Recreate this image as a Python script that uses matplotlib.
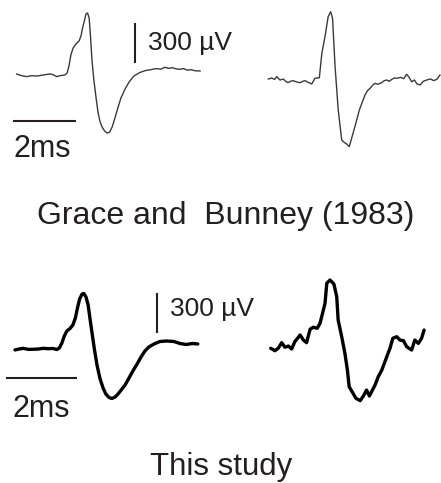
import matplotlib
matplotlib.use("Agg")
import matplotlib.pyplot as plt

plt.rcParams['font.family'] = ['Liberation Sans', 'DejaVu Sans']

# ---------------- data (time in ms, voltage in uV) ----------------
grace_left_t = [0, 0.16, 0.32, 0.48, 0.63, 0.84, 1.06, 1.16, 1.27, 1.40, 1.53, 1.60, 1.66, 1.72,
                1.79, 1.88, 1.98, 2.04, 2.09, 2.14, 2.20, 2.25, 2.30, 2.34, 2.39, 2.45, 2.52,
                2.58, 2.64, 2.71, 2.79, 2.87, 2.95, 3.03, 3.12, 3.22, 3.31, 3.44, 3.57, 3.72,
                3.91, 4.10, 4.26, 4.42, 4.58, 4.70, 4.82, 4.94, 5.06, 5.18, 5.30, 5.42, 5.54,
                5.66, 5.82]
grace_left_v = [7, -5, -12, -5, -8, 0, 8, 2, -12, -4, 0, 15, 68, 150,
                202, 232, 255, 292, 352, 398, 458, 465, 428, 300, 112, -38, -172,
                -278, -345, -390, -420, -435, -428, -390, -322, -240, -172, -105, -52, -8,
                19, 34, 40, 48, 44, 58, 50, 55, 46, 43, 48, 36, 40,
                32, 30]

grace_right_t = [0, 0.10, 0.20, 0.27, 0.37, 0.48, 0.55, 0.63, 0.72, 0.79, 0.90, 1.01, 1.09, 1.17,
                 1.27, 1.38, 1.48, 1.62, 1.70, 1.80, 1.90, 1.98, 2.04, 2.12, 2.22, 2.33, 2.42,
                 2.49, 2.57, 2.75, 2.89, 3.07, 3.15, 3.23, 3.31, 3.39, 3.48, 3.60, 3.68, 3.76,
                 3.84, 3.92, 4.00, 4.08, 4.20, 4.30, 4.39, 4.47, 4.55, 4.64, 4.72, 4.82, 4.92,
                 5.03, 5.15, 5.25, 5.35, 5.45]
grace_right_v = [7, 15, 5, 25, 0, 7, -10, -20, -8, -5, -15, -20, -10, -5,
                 -18, -30, 13, 17, 200, 325, 475, 512, 463, 100, -225, -450, -470,
                 -480, -500, -350, -225, -112, -80, -62, -40, -25, -32, -20, -5, 0,
                 -10, 5, 15, 13, 20, 10, 43, 20, -13, 0, -30, -37, -10,
                 0, 8, -5, 5, 37]

study_left_t = [0, 0.12, 0.23, 0.38, 0.52, 0.66, 0.80, 0.94, 1.07, 1.18, 1.25, 1.32, 1.39, 1.46,
                1.55, 1.63, 1.70, 1.76, 1.82, 1.89, 1.94, 2.00, 2.06, 2.11, 2.17, 2.24, 2.31,
                2.39, 2.48, 2.56, 2.65, 2.73, 2.82, 2.90, 2.99, 3.10, 3.21, 3.32, 3.44, 3.55,
                3.66, 3.77, 3.92, 4.08, 4.28, 4.48, 4.65, 4.82, 4.99, 5.15]
study_left_v = [-7, 0, 5, -3, -2, 0, 5, 2, 4, -4, 8, 45, 98, 135,
                154, 180, 232, 308, 375, 412, 416, 390, 330, 232, 120, -8, -120,
                -218, -292, -338, -364, -371, -360, -338, -308, -270, -218, -165, -112, -60,
                -15, 15, 38, 56, 60, 56, 41, 34, 41, 38]

study_right_t = [0, 0.12, 0.21, 0.31, 0.40, 0.50, 0.59, 0.68, 0.83, 0.92, 1.01, 1.11, 1.20, 1.31,
                 1.39, 1.46, 1.53, 1.58, 1.67, 1.78, 1.86, 1.90, 2.00, 2.09, 2.16, 2.21, 2.31,
                 2.40, 2.52, 2.61, 2.70, 2.78, 2.94, 3.03, 3.13, 3.27, 3.36, 3.44, 3.55, 3.64,
                 3.74, 3.83, 3.97, 4.06, 4.16, 4.25, 4.32]
study_right_v = [0, -18, 0, 42, 8, 17, -5, 50, 100, 62, 42, 143, 158, 150,
                 188, 262, 338, 488, 512, 482, 387, 212, 87, -37, -163, -288, -333,
                 -375, -393, -358, -313, -358, -275, -213, -163, -63, 0, 75, 87, 62,
                 57, 12, -13, 62, 37, 75, 137]

titles = ["Grace and  Bunney (1983)", "This study"]
volt_label = "300 \u00b5V"
time_label = "2ms"
bar_ms = 2.0
bar_uv = 300.0

W, H = 441, 483
fig = plt.figure(figsize=(W / 100, H / 100), dpi=100)
TXT = '#231f20'


def panel(x0, y0, ppm, ppu):
    """axes covering the full figure; (x0, y0) pixel of t=0,V=0; ppm px/ms, ppu px/uV."""
    ax = fig.add_axes([0, 0, 1, 1])
    ax.set_xlim(-x0 / ppm, (W - x0) / ppm)
    ax.set_ylim((y0 - H) / ppu, y0 / ppu)
    ax.axis('off')
    ax.patch.set_alpha(0)
    return ax


ppu = 40 / 300.0
# top-left
a1 = panel(16.7, 75, 31.5, ppu)
a1.plot(grace_left_t, grace_left_v, color='#3a3a3a', lw=1.0, solid_joinstyle='round')
a1.plot([-0.13, -0.13 + bar_ms], [-345, -345], color=TXT, lw=1.5, solid_capstyle='butt')
a1.plot([3.76, 3.76], [90, 90 + bar_uv], color=TXT, lw=1.5, solid_capstyle='butt')
a1.text(4.17, 240, volt_label, fontsize=19, color=TXT, va='center', ha='left')
a1.text(-0.09, -555, time_label, fontsize=22, color=TXT, va='center', ha='left')

# top-right
a2 = panel(268.3, 80, 31.5, ppu)
a2.plot(grace_right_t, grace_right_v, color='#3a3a3a', lw=1.0, solid_joinstyle='round')

# bottom-left
a3 = panel(15, 349, 35.5, ppu)
a3.plot(study_left_t, study_left_v, color='black', lw=2.4, solid_joinstyle='round', solid_capstyle='round')
a3.plot([-0.25, -0.25 + bar_ms], [-217, -217], color=TXT, lw=1.5, solid_capstyle='butt')
a3.plot([4.0, 4.0], [120, 120 + bar_uv], color=TXT, lw=1.5, solid_capstyle='butt')
a3.text(4.37, 300, volt_label, fontsize=19, color=TXT, va='center', ha='left')
a3.text(-0.06, -450, time_label, fontsize=22, color=TXT, va='center', ha='left')

# bottom-right
a4 = panel(270.7, 348.3, 35.5, ppu)
a4.plot(study_right_t, study_right_v, color='black', lw=2.4, solid_joinstyle='round', solid_capstyle='round')

fig.text(225.5 / W, 1 - 224 / H, titles[0], fontsize=23, color=TXT, ha='center', va='baseline')
fig.text(221 / W, 1 - 475 / H, titles[1], fontsize=22.5, color=TXT, ha='center', va='baseline')

fig.savefig('out.png', dpi=100, facecolor='white')
